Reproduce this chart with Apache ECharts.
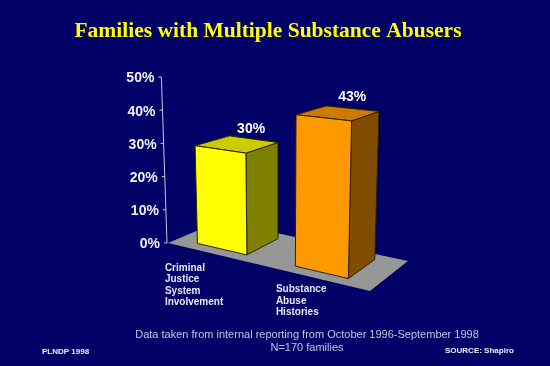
<!DOCTYPE html>
<html><head><meta charset="utf-8">
<style>html,body{margin:0;padding:0;background:#000066}#c{width:550px;height:366px}</style>
<script src="https://cdn.jsdelivr.net/npm/echarts@6/dist/echarts.min.js"></script>
</head><body><div id="c"></div>
<script>
var titleText = 'Families with Multiple Substance Abusers';
var categories = ['Criminal\nJustice\nSystem\nInvolvement', 'Substance\nAbuse\nHistories'];
var barValues = [30, 43];
var axisTicks = [0, 10, 20, 30, 40, 50];
var noteLines = 'Data taken from internal reporting from October 1996-September 1998\nN=170 families';
var footLeft = 'PLNDP 1998';
var footRight = 'SOURCE: Shapiro';

var sans = '"Liberation Sans", Arial, sans-serif';
var barColors = [
  {front:'#ffff00', side:'#808000', top:'#cccc00'},
  {front:'#ff9900', side:'#804d00', top:'#cc7a00'}
];
// Floor of the tilted plot, as screen corners
var FL=[168,243], FR=[370,291], BL=[220,221], BR=[408,261];
function lerp(a,b,t){return [a[0]+(b[0]-a[0])*t, a[1]+(b[1]-a[1])*t];}
function floorPt(u,v){return lerp(lerp(FL,FR,u), lerp(BL,BR,u), v);}
function unitPx(api){return api.coord([0,0])[1]-api.coord([0,1])[1];}
function lift(p,h){return [p[0]+(p[0]-280)*0.0003*h, p[1]-h];}
function barPt(api,u,v,val){
  var p=floorPt(u,v);
  return lift(p, val*unitPx(api)*(0.98+(p[1]-243)*0.0035));
}
function uOf(api,i){return (api.coord([i,0])[0]-FL[0])/(FR[0]-FL[0]);}
var V0=0.19, V1=0.85;

var option = {
  animation:false,
  backgroundColor:'#000066',
  title:{text:titleText,left:263,top:15,textAlign:'center',
    textStyle:{color:'#ffff00',fontFamily:'"Liberation Serif",serif',fontWeight:'bold',fontSize:21.5}},
  grid:{left:162.4,width:202,top:77,height:166},
  xAxis:{type:'category',data:categories,show:false},
  yAxis:{type:'value',min:0,max:50,interval:10,show:false},
  graphic:[
    {type:'text',x:307,y:328,style:{text:noteLines,align:'center',verticalAlign:'top',fill:'#c4c4e4',font:'11px '+sans,lineHeight:13}},
    {type:'text',x:42,y:348,style:{text:footLeft,fill:'#f0f0f8',font:'bold 8px '+sans}},
    {type:'text',x:445,y:347,style:{text:footRight,fill:'#f0f0f8',font:'bold 8px '+sans}}
  ],
  series:[
    {type:'custom',z:1,silent:true,clip:false,data:[0],
     renderItem:function(){
       return {type:'polygon',shape:{points:[FL,BL,BR,FR]},style:{fill:'#969696'}};
     }},
    {type:'custom',z:2,silent:true,clip:false,data:axisTicks.map(function(t){return [0,t];}),
     renderItem:function(params,api){
       var val=api.value(1);
       var base=[FL[0]-1,api.coord([0,0])[1]];
       var h=val*unitPx(api);
       var p=lift(base,h);
       var kids=[
         {type:'line',shape:{x1:p[0]-3,y1:p[1],x2:p[0],y2:p[1]},style:{stroke:'#c8c8e0',lineWidth:1}},
         {type:'text',x:p[0]-7,y:p[1]+1.5,style:{text:val+'%',align:'right',verticalAlign:'middle',fill:'#f0f0f8',font:'bold 14px '+sans}}
       ];
       if(val===axisTicks[axisTicks.length-1]){
         kids.unshift({type:'line',shape:{x1:base[0],y1:base[1],x2:p[0],y2:p[1]},style:{stroke:'#c8c8e0',lineWidth:1}});
       }
       return {type:'group',children:kids};
     }},
    {type:'custom',z:3,silent:true,clip:false,data:barValues.map(function(v,i){return [i,v];}),
     renderItem:function(params,api){
       var i=api.value(0), val=api.value(1);
       var u=uOf(api,i), hw=0.12+0.018*u, c=barColors[i];
       var u0=u-hw,u1=u+hw;
       var a=barPt(api,u0,V0,0), b=barPt(api,u1,V0,0), d=barPt(api,u1,V1,0);
       var A=barPt(api,u0,V0,val), B=barPt(api,u1,V0,val), D=barPt(api,u1,V1,val), E=barPt(api,u0,V1,val);
       var mid=barPt(api,u,(V0+V1)/2,val);
       function poly(pts,fill){return {type:'polygon',shape:{points:pts},style:{fill:fill,stroke:'#2a2200',lineWidth:1}};}
       var fy=floorPt(u,0);
       return {type:'group',children:[
         poly([b,d,D,B],c.side),
         poly([A,B,D,E],c.top),
         poly([a,b,B,A],c.front),
         {type:'text',x:mid[0]+14,y:mid[1]-15-(u-0.2225)*2,style:{text:val+'%',align:'center',verticalAlign:'middle',fill:'#ffffff',font:'bold 14px '+sans}},
         {type:'text',x:fy[0]-48+(u-0.2225)*20,y:fy[1]+8.5-(u-0.2225)*5,style:{text:categories[i],align:'left',verticalAlign:'top',fill:'#e8e8f4',font:'bold 10px '+sans,lineHeight:11.5}}
       ]};
     }}
  ]
};
echarts.init(document.getElementById('c')).setOption(option);
</script></body></html>
